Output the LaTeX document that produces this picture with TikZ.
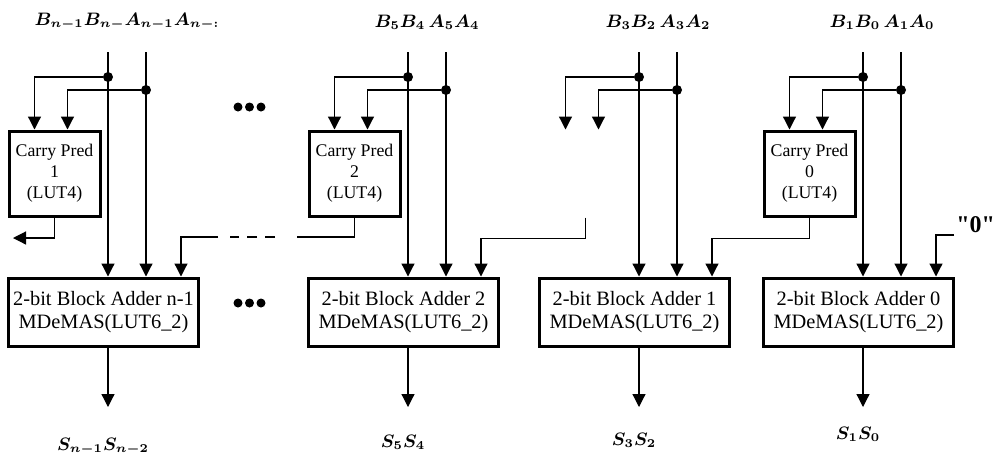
\documentclass[tikz,border=0pt]{standalone}
\usepackage{amsmath}
\usepackage{amssymb}
\usepackage{fontspec}
\setmainfont{Liberation Serif}
\usetikzlibrary{arrows.meta,calc}

\tikzset{
	wire/.style={line width=0.6pt},
	feed/.style={wire,-{Triangle[width=6.5pt,length=6.5pt]}},
	adderbox/.style={draw,line width=1.5pt,minimum width=95pt,minimum height=34pt,
		align=center,inner sep=1pt,font=\fontsize{10.2}{11.5}\selectfont},
	predbox/.style={draw,line width=1.5pt,minimum width=45.5pt,minimum height=42.5pt,
		align=center,inner sep=1pt,font=\fontsize{8.9}{10.5}\selectfont},
	junction/.style={circle,fill,inner sep=0pt,minimum size=5pt},
	iolabel/.style={inner sep=1pt,font=\fontsize{9}{10}\selectfont},
}

\begin{document}
\begin{tikzpicture}[x=0.5pt,y=-0.5pt]
	\useasboundingbox (0,0) rectangle (997,457);
	% carry predictors (slice 1 has no box drawn)
	\node[predbox] (cpm) at (54.5,173.5) {Carry Pred\\1\\(LUT4)};
	\node[predbox] (cp2) at (354.5,173.5) {Carry Pred\\2\\(LUT4)};
	\node[predbox,draw=none] (cp1) at (585.5,173.5) {};
	\node[predbox] (cp0) at (809.5,173.5) {Carry Pred\\0\\(LUT4)};
	% the 2-bit slices
	\foreach \bx/\id/\k/\inlbl/\outlbl/\sy in {
		108/m/n-1/{B_{n-1}B_{n-}A_{n-1}A_{n-:}}/{S_{n-1}S_{n-2}}/447,
		408/2/2/{B_5B_4\,A_5A_4}/{S_5S_4}/442,
		639/1/1/{B_3B_2\,A_3A_2}/{S_3S_2}/440,
		863/0/0/{B_1B_0\,A_1A_0}/{S_1S_0}/434}{
		\node[adderbox] (add\id) at (\bx-4.5,312) {2-bit Block Adder \k\\MDeMAS(LUT6\_2)};
		\node[iolabel] (in\id) at (\bx+19,22) {$\boldsymbol{\inlbl}$};
		\coordinate (b\id) at (\bx,52);
		\coordinate (a\id) at (\bx+38,52);
		\node[junction] (bj\id) at (\bx,77) {};
		\node[junction] (aj\id) at (\bx+38,90) {};
		\draw[feed] (b\id) -- (add\id.north -| b\id);
		\draw[feed] (a\id) -- (add\id.north -| a\id);
		\draw[feed] (bj\id) -| ($(cp\id.north west)+(27,0)$);
		\draw[feed] (aj\id) -| ($(cp\id.north west)+(60,0)$);
		\coordinate (s\id) at (\bx,407);
		\draw[feed] (add\id.south -| s\id) -- (s\id);
		\node[iolabel] (sum\id) at (\bx-5,\sy) {$\boldsymbol{\outlbl}$};
	}
	% carry chain
	\coordinate (cout) at (13,238);
	\draw[feed] (cpm.south) |- (cout);
	\coordinate (gapR) at (297,237);
	\coordinate (dashR) at (275,237);
	\coordinate (dashL) at (230,237);
	\coordinate (gapL) at (218,237);
	\draw[wire] (cp2.south) |- (gapR);
	\draw[wire,dash pattern=on 5pt off 4pt] (dashR) -- (dashL);
	\draw[feed] (gapL) -| ($(addm.north east)+(-19,0)$);
	\draw[feed] (cp1.south) -- ++(0,21) -| ($(add2.north east)+(-19,0)$);
	\draw[feed] (cp0.south) -- ++(0,21) -| ($(add1.north east)+(-19,0)$);
	\node[anchor=south west,inner sep=1pt,font=\fontsize{12}{13}\selectfont\bfseries] (zero) at (954,235) {\textquotedbl 0\textquotedbl};
	\draw[feed] (zero.south west) -| ($(add0.north east)+(-19,0)$);
	% ellipsis dots
	\foreach \dy in {107,303}
		\foreach \d in {0,1,2}
			\fill (238+\d*11.5,\dy) circle (2.25pt);
\end{tikzpicture}
\end{document}
